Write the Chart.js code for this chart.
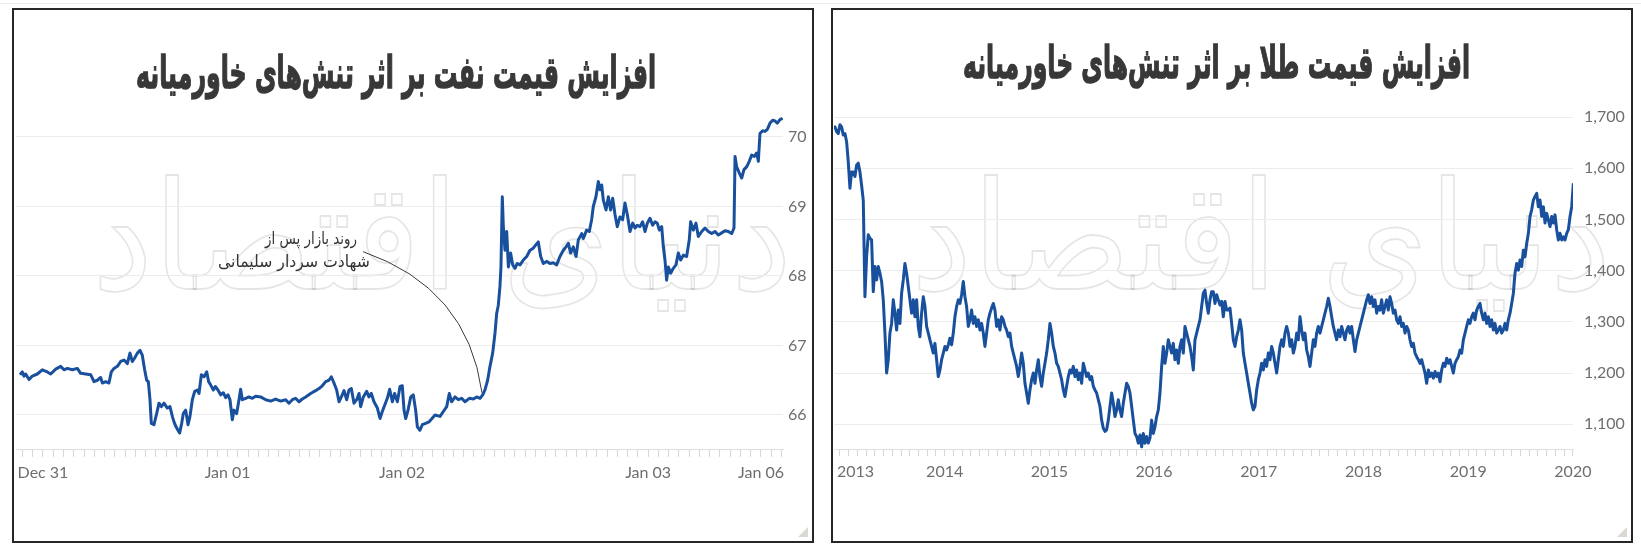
<!DOCTYPE html>
<html><head><meta charset="utf-8">
<script src="https://cdn.jsdelivr.net/npm/chart.js@4.4.1/dist/chart.umd.min.js"></script>
<style>
html,body{margin:0;padding:0;background:#fff;width:1641px;height:553px;overflow:hidden;}
.topline{position:absolute;left:0;top:3px;width:1641px;height:1px;background:#ededed;}
.panel{position:absolute;top:8px;width:798px;height:531px;border:2px solid #262626;background:#fff;overflow:hidden;}
#p1{left:12px;} #p2{left:831px;}
.panel canvas{position:absolute;left:0;top:0;z-index:2;}
.title{position:absolute;white-space:nowrap;font-family:'DejaVu Sans',sans-serif;font-weight:bold;color:#383838;-webkit-text-stroke:1.1px #383838;direction:rtl;line-height:1;font-size:34px;z-index:3;}
.wm{position:absolute;white-space:nowrap;font-family:'DejaVu Sans',sans-serif;color:transparent;-webkit-text-stroke:1.2px rgba(0,0,0,0.10);direction:rtl;line-height:1;font-size:100px;z-index:1;}
.note{position:absolute;white-space:nowrap;font-family:'DejaVu Sans',sans-serif;color:#333;direction:rtl;line-height:1;font-size:15px;z-index:3;}
.grip{position:absolute;right:4px;bottom:4px;width:0;height:0;border-left:10px solid transparent;border-bottom:10px solid #dcd9d2;z-index:3;}
</style>
</head><body>
<div class="topline"></div>
<div class="panel" id="p1">
  <div class="wm" id="wm1">دنیای اقتصاد</div>
  <canvas id="oil" width="798" height="531"></canvas>
  <div class="title" id="t1">افزایش قیمت نفت بر اثر تنش‌های خاورمیانه</div>
  <div class="note" id="n1a">روند بازار پس از</div>
  <div class="note" id="n1b">شهادت سردار سلیمانی</div>
  <div class="grip"></div>
</div>
<div class="panel" id="p2">
  <div class="wm" id="wm2">دنیای اقتصاد</div>
  <canvas id="gold" width="798" height="531"></canvas>
  <div class="title" id="t2">افزایش قیمت طلا بر اثر تنش‌های خاورمیانه</div>
  <div class="grip"></div>
</div>
<script>
// ---------- Oil (trading-hour index, price) ----------
const oilHours = [-2.24,-2.02,-1.85,-1.69,-1.36,-1.04,-0.55,-0.07,0.42,0.75,1.24,1.72,2.05,2.37,2.86,3.35,3.67,4.16,4.65,4.97,
5.30,5.62,5.79,6.11,6.43,6.66,6.92,7.25,7.57,7.90,8.22,8.48,8.71,8.94,9.20,9.46,9.68,9.91,10.11,10.27,
10.43,10.56,10.82,11.08,11.31,11.54,11.80,12.12,12.38,12.61,12.77,12.97,13.16,13.32,13.52,13.68,13.91,14.14,14.33,14.56,
14.79,15.05,15.21,15.44,15.70,15.96,16.15,16.35,16.61,16.80,17.06,17.32,17.58,17.81,18.04,18.23,18.46,18.62,18.88,19.11,
19.27,19.43,19.76,20.08,20.41,20.73,21.22,21.71,22.20,22.68,23.17,23.66,23.98,24.31,24.63,24.96,25.28,25.61,26.09,26.58,
26.91,27.23,27.56,27.88,28.11,28.37,28.63,28.86,29.09,29.35,29.61,29.83,30.06,30.32,30.58,30.81,30.97,31.23,31.56,31.78,
32.01,32.27,32.60,32.86,33.08,33.31,33.57,33.80,34.06,34.28,34.55,34.81,35.03,35.20,35.36,35.59,35.85,36.10,36.33,36.50,
36.75,36.98,37.31,37.63,38.22,38.71,39.03,39.36,39.61,39.84,40.17,40.49,40.82,41.14,41.57,41.96,42.28,42.61,42.87,43.09,
43.35,43.58,43.84,44.07,44.23,44.39,44.55,44.65,44.78,44.88,45.04,45.21,45.37,45.59,45.79,46.02,46.24,46.51,46.83,47.16,
47.48,47.80,48.06,48.29,48.52,48.78,49.10,49.43,49.75,50.08,50.40,50.73,50.99,51.22,51.44,51.70,51.97,52.19,52.52,52.68,
53.00,53.26,53.49,53.65,53.91,54.14,54.30,54.47,54.63,54.89,55.12,55.34,55.54,55.77,55.99,56.25,56.51,56.74,56.97,57.23,
57.49,57.72,57.94,58.20,58.46,58.69,58.92,59.18,59.44,59.67,59.89,60.09,60.32,60.48,60.64,60.80,60.97,61.19,61.45,61.71,
61.94,62.17,62.43,62.75,63.01,63.14,63.40,63.66,63.89,64.22,64.54,64.87,65.19,65.52,65.84,66.17,66.49,66.82,67.14,67.37,
67.47,67.63,67.89,68.12,68.34,68.60,68.86,69.09,69.35,69.58,69.74,69.90,70.16,70.39,70.62,70.88,71.14,71.37,71.59,71.85,72.11];
const oilPrices = [66.58,66.62,66.56,66.59,66.51,66.56,66.59,66.65,66.62,66.59,66.66,66.70,66.65,66.67,66.65,66.67,66.60,66.59,66.58,66.48,
66.50,66.54,66.46,66.48,66.46,66.62,66.67,66.70,66.77,66.79,66.74,66.89,66.77,66.82,66.89,66.93,66.86,66.65,66.50,66.48,
66.22,65.88,65.86,66.02,66.17,66.12,66.17,66.10,66.12,65.98,65.90,65.83,65.78,65.74,65.88,66.02,66.07,65.86,65.98,66.22,
66.34,66.36,66.31,66.58,66.55,66.62,66.48,66.43,66.36,66.41,66.36,66.29,66.32,66.25,66.29,66.22,65.93,66.07,66.02,66.22,
66.37,66.22,66.24,66.26,66.24,66.27,66.26,66.22,66.20,66.23,66.20,66.22,66.17,66.22,66.24,66.19,66.23,66.26,66.31,66.35,
66.38,66.42,66.48,66.50,66.55,66.46,66.36,66.19,66.26,66.35,66.22,66.36,66.38,66.17,66.22,66.31,66.12,66.26,66.34,66.26,
66.31,66.19,66.10,65.95,66.05,66.14,66.24,66.37,66.19,66.31,66.19,66.41,66.42,66.07,65.95,66.07,66.26,66.29,66.07,65.83,
65.78,65.86,65.88,65.90,66.00,65.98,66.05,66.12,66.31,66.19,66.26,66.22,66.24,66.19,66.24,66.23,66.26,66.24,66.29,66.36,
66.50,66.70,66.89,67.18,67.46,67.58,67.85,68.13,69.14,68.71,68.37,68.64,68.13,68.33,68.16,68.11,68.18,68.16,68.23,68.28,
68.37,68.40,68.45,68.49,68.28,68.18,68.21,68.18,68.19,68.16,68.28,68.37,68.42,68.47,68.33,68.42,68.28,68.52,68.61,68.54,
68.66,68.64,68.81,69.00,69.14,69.36,69.24,69.31,69.09,68.95,69.14,68.95,69.12,68.88,68.71,68.85,68.81,69.05,68.88,68.64,
68.76,68.69,68.73,68.71,68.78,68.64,68.76,68.83,68.73,68.78,68.76,68.66,68.71,68.42,68.23,67.94,68.13,68.04,68.11,68.16,
68.33,68.23,68.30,68.28,68.52,68.78,68.66,68.76,68.57,68.64,68.69,68.64,68.61,68.64,68.59,68.62,68.65,68.64,68.61,68.69,
69.72,69.57,69.48,69.41,69.53,69.57,69.65,69.74,69.72,69.77,69.65,70.05,70.09,70.08,70.11,70.20,70.24,70.23,70.20,70.25,70.27];
const oilTickHours = [0, 18, 35, 59, 70];
const oilTickLabels = ['Dec 31', 'Jan 01', 'Jan 02', 'Jan 03', 'Jan 06'];
const oilYTicks = [66, 67, 68, 69, 70];
// connector (in data units: hour, price)
const oilNoteFrom = [31.2, 68.35], oilNoteCtrl = [41.4, 67.83], oilNoteTo = [42.8, 66.32];

// ---------- Gold (sampled about every 5.8 days from end of 2012) ----------
const goldStartYear = 2012.936;
const goldStepYears = 0.01592;
const goldPrices = [1678,1681,1672,1668,1685,1681,1665,1668,1652,1613,1561,1593,1593,1584,1606,1610,1593,1567,1538,1349,
1427,1470,1463,1460,1359,1408,1382,1408,1395,1379,1343,1278,1200,1226,
1278,1297,1343,1317,1284,1323,1297,1356,1382,1414,
1395,1369,1343,1317,1343,1310,1343,1291,1271,1317,
1349,1330,1291,1278,1265,1252,1239,1258,1226,1193,
1206,1226,1239,1252,1245,1255,1268,1255,1278,1310,
1330,1343,1336,1353,1379,1349,1330,1291,1304,1323,
1297,1310,1291,1304,1284,1297,1278,1252,1278,1304,
1317,1327,1336,1323,1291,1304,1284,1310,1304,1291,
1284,1271,1278,1252,1239,1226,1213,1193,1213,1239,
1219,1180,1161,1141,1167,1187,1200,1180,1206,1226,
1193,1174,1200,1219,1239,1265,1297,1278,1252,1239,
1219,1213,1200,1187,1167,1154,1174,1193,1206,1200,
1213,1193,1206,1187,1200,1180,1219,1206,1193,1200,
1187,1193,1174,1167,1161,1148,1135,1108,1092,1086,
1089,1108,1135,1161,1141,1115,1128,1148,1128,1115,
1141,1161,1180,1174,1161,1135,1108,1082,1076,1063,
1079,1056,1082,1063,1076,1063,1073,1108,1082,1095,
1115,1128,1161,1213,1252,1219,1239,1265,1252,1239,
1258,1226,1245,1219,1252,1265,1239,1291,1278,1265,
1252,1232,1206,1265,1278,1291,1304,1330,1356,1362,
1336,1317,
1343,1359,1359,1336,1353,1343,1333,1340,1310,1340,1323,1323,1327,1297,1265,1252,1271,1284,1304,1284,1239,
1219,1200,1180,1161,1141,1128,1135,1167,1187,1200,
1219,1206,1226,1213,1239,1226,1252,1239,1219,1200,
1226,1252,1265,1252,1278,1291,1278,1252,1265,1239,
1252,1278,1265,1310,1284,1265,1278,1245,1232,1213,
1239,1265,1252,1278,1291,1278,1291,1304,1317,1330,
1346,1330,1310,1291,1278,1265,1284,1271,1291,1278,
1265,1284,1291,1278,1291,1265,1242,1265,1278,1291,
1304,1317,1330,1343,1353,1336,1349,1330,1343,1317,
1330,1323,1343,1317,1330,1343,1323,1349,1336,1317,
1323,1304,1297,1310,1291,1297,1278,1291,1284,1265,
1252,1258,1239,1232,1226,1219,1226,1213,1200,1180,
1206,1193,1200,1190,1203,1193,1200,1183,1206,1219,
1213,1229,1219,1226,1213,1200,1219,1226,1232,1245,
1239,1265,1278,1291,1304,1297,1310,1317,1304,1323,
1330,1336,1317,1304,1317,1297,1310,1291,1304,1284,
1297,1278,1284,1291,1278,1284,1297,1284,1304,1317,
1336,1356,1395,1414,1401,1421,1408,1440,1427,1453,
1473,1506,1519,1538,1545,1551,1525,1538,1506,1525,
1493,1512,1499,1486,1506,1493,1509,1480,1460,1473,
1460,1466,1460,1473,1480,1506,1525,1571];
const goldYearTicks = [2013, 2014, 2015, 2016, 2017, 2018, 2019, 2020];
const goldYTicks = [1100, 1200, 1300, 1400, 1500, 1600, 1700];

const LINE = '#18509d';
const LABEL_FONT = {family: 'Lato', size: 16};
const LABEL_COLOR = '#6e6e6e';

function makeChart(canvas, cfg) {
  return new Chart(canvas, {
    type: 'line',
    data: {datasets: [{data: cfg.points, borderColor: LINE, borderWidth: 3, pointRadius: 0, tension: 0, fill: false, borderJoinStyle: 'round'}]},
    options: {
      responsive: false, animation: false, devicePixelRatio: 1,
      layout: {padding: {left: cfg.padLeft, top: cfg.padTop, right: 0, bottom: 0}},
      plugins: {legend: {display: false}, tooltip: {enabled: false}, title: {display: false}},
      scales: {
        x: {
          type: 'linear', min: cfg.xmin, max: cfg.xmax, bounds: 'data',
          afterBuildTicks: s => { s.ticks = cfg.xMinor.map(v => ({value: v})); },
          afterFit: s => { s.height = cfg.xHeight; s.paddingLeft = 0; s.paddingRight = 0; },
          grid: {drawOnChartArea: false, drawTicks: true, tickLength: 7, tickColor: '#d6d6d6', tickWidth: 1},
          border: {display: true, color: '#dedede', width: 1},
          ticks: {autoSkip: false, maxRotation: 0, minRotation: 0, padding: 6, font: LABEL_FONT, color: LABEL_COLOR,
            callback: v => cfg.xLabel(v)}
        },
        y: {
          type: 'linear', position: 'right', min: cfg.ymin, max: cfg.ymax, bounds: 'data',
          afterBuildTicks: s => { s.ticks = cfg.yTicks.map(v => ({value: v})); },
          afterFit: s => { s.width = cfg.yWidth; },
          grid: {color: '#ececec', lineWidth: 1, drawTicks: false},
          border: {display: false},
          ticks: {padding: cfg.yPad, font: LABEL_FONT, color: LABEL_COLOR, callback: v => v.toLocaleString('en-US')}
        }
      }
    },
    plugins: cfg.plugins || []
  });
}

// place an element: anchor 'c' = centre at (x,y); 'r' = right edge at x, vertical centre y
function place(el, x, y, targetW, sy, anchor) {
  const r = el.getBoundingClientRect();
  const sx = targetW / r.width;
  const w = r.width, h = r.height;
  const left = anchor === 'r' ? x - w * sx : x - w * sx / 2;
  el.style.left = left + 'px';
  el.style.top = (y - h / 2) + 'px';
  el.style.transformOrigin = '0 50%';
  el.style.transform = `scale(${sx}, ${sy})`;
}

document.fonts.ready.then(() => {
  place(document.getElementById('t1'), 382, 62, 520, 1.3, 'c');
  place(document.getElementById('t2'), 383, 52, 507, 1.3, 'c');
  place(document.getElementById('n1a'), 343, 229, 92, 1.1, 'r');
  place(document.getElementById('n1b'), 356, 252, 152, 1.1, 'r');
  place(document.getElementById('wm1'), 428, 228, 700, 1.5, 'c');
  place(document.getElementById('wm2'), 428, 228, 700, 1.5, 'c');

  // oil
  const oilMinor = [];
  for (let h = -2; h <= 72; h++) oilMinor.push(h);
  const connector = {
    id: 'connector',
    afterDatasetsDraw(chart) {
      const xs = chart.scales.x, ys = chart.scales.y, ctx = chart.ctx;
      ctx.save();
      ctx.strokeStyle = '#3a3a3a'; ctx.lineWidth = 1;
      ctx.beginPath();
      ctx.moveTo(xs.getPixelForValue(oilNoteFrom[0]), ys.getPixelForValue(oilNoteFrom[1]));
      ctx.quadraticCurveTo(xs.getPixelForValue(oilNoteCtrl[0]), ys.getPixelForValue(oilNoteCtrl[1]),
                           xs.getPixelForValue(oilNoteTo[0]), ys.getPixelForValue(oilNoteTo[1]));
      ctx.stroke();
      ctx.restore();
    }
  };
  makeChart(document.getElementById('oil'), {
    points: oilHours.map((h, i) => ({x: h, y: oilPrices[i]})),
    xmin: -2.632, xmax: 72.146, ymin: 65.5, ymax: 70.45,
    padLeft: 2, padTop: 95.7, xHeight: 91.25, yWidth: 29, yPad: 5,
    xMinor: oilMinor, yTicks: oilYTicks,
    xLabel: v => { const i = oilTickHours.indexOf(v); return i >= 0 ? oilTickLabels[i] : ''; },
    plugins: [connector]
  });

  // gold
  const goldMinor = [];
  for (let m = 0; m <= 84; m++) goldMinor.push(2013 + m / 12);
  const yearLabels = {
    id: 'yearLabels',
    afterDraw(chart) {
      const xs = chart.scales.x, ctx = chart.ctx, area = chart.chartArea;
      ctx.save();
      ctx.font = '16px Lato'; ctx.fillStyle = LABEL_COLOR;
      ctx.textAlign = 'center'; ctx.textBaseline = 'middle';
      goldYearTicks.forEach(yr => {
        const t = String(yr);
        const w = ctx.measureText(t).width;
        let px = xs.getPixelForValue(yr);
        px = Math.max(px, area.left + w / 2 + 3);
        ctx.fillText(t, px, xs.top + 7 + 6 + 9.6);
      });
      ctx.restore();
    }
  };
  makeChart(document.getElementById('gold'), {
    points: goldPrices.map((p, i) => ({x: goldStartYear + i * goldStepYears, y: p})),
    xmin: 2012.943, xmax: 2020.001, ymin: 1051, ymax: 1720,
    padLeft: 1, padTop: 96.9, xHeight: 91.7, yWidth: 58, yPad: 11,
    xMinor: goldMinor, yTicks: goldYTicks,
    xLabel: v => '',
    plugins: [yearLabels]
  });
});
</script>
</body></html>
